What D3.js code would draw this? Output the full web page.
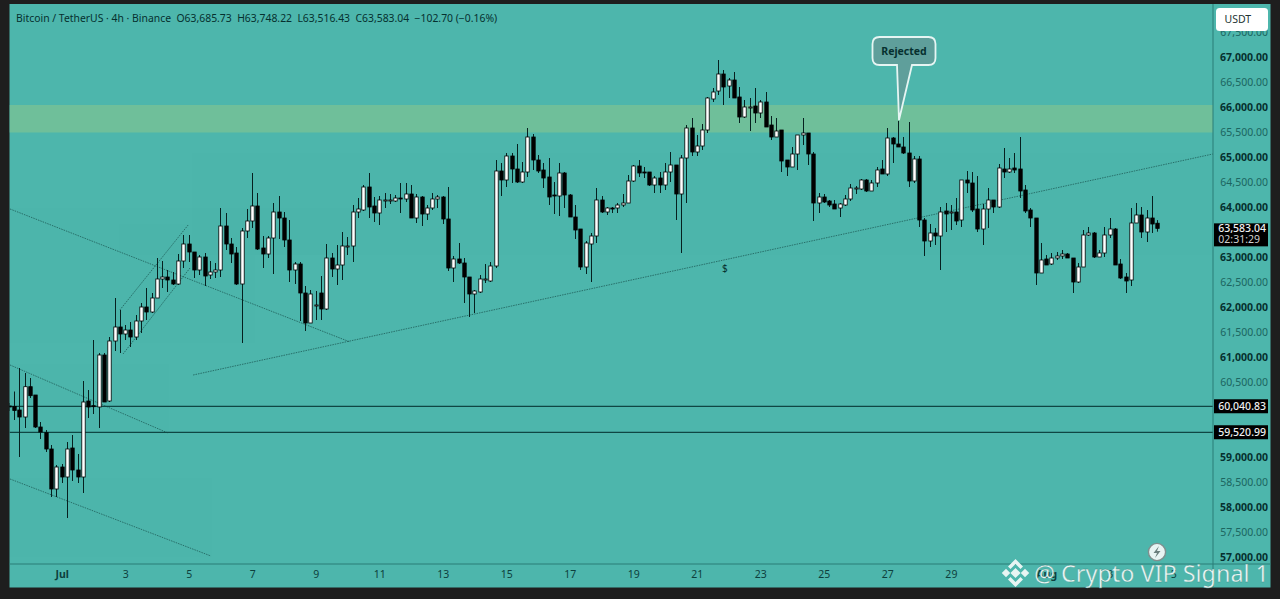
<!DOCTYPE html>
<html><head><meta charset="utf-8">
<script src="https://cdn.jsdelivr.net/npm/d3@7"></script>
<style>
html,body{margin:0;padding:0;background:#1e1e1e;overflow:hidden}
svg{display:block}
text{font-family:"Noto Sans",sans-serif}
</style></head><body>
<div id="chart"></div>
<script>
const highs=[60090,60320,60790,60690,60590,60250,59710,59550,59250,58850,58870,59310,59450,59070,60530,60350,61350,61090,61090,61410,
62190,61950,61650,61710,61850,62090,62390,62290,62990,62930,62750,62710,63070,63450,63450,63110,63050,63090,62930,62890,
63990,63890,63390,63210,63590,63970,64690,64290,63430,63430,64090,64230,63910,63750,62910,62910,62430,62350,62330,62630,
63270,63090,63250,63510,63410,64050,64190,64450,64690,64210,64230,64290,64270,64250,64490,64490,64450,64270,64230,64050,
64290,64250,64230,64410,63030,63290,62990,62610,62350,62650,62870,62910,64950,64890,65090,65090,65270,64910,65590,65470,
65050,64890,64990,64510,64890,64710,64270,64050,63570,63330,63490,64390,64230,64010,64010,64090,64270,64650,64850,64950,
64810,64710,64630,64710,64890,65110,64850,65050,65650,65790,65450,65670,66210,66390,66950,66750,66590,66710,66410,66150,
66190,66390,66150,66310,65830,65790,65550,64950,65210,65450,65790,65490,65110,64290,64270,64150,64150,64090,64250,64470,
64430,64570,64570,64550,64810,64950,65590,65410,65730,65410,65710,65030,65030,63790,63670,63590,64010,64090,64050,64190,
64550,64730,64710,64630,64070,64390,64150,64870,65190,64990,65090,65410,64450,63990,63790,63290,63050,63090,63110,63150,
63090,62990,62890,63550,63610,63510,63150,63610,63790,63590,62970,62690,63990,64090,64010,63950,64230,63748.22];
const lows=[59930,59750,59010,59590,60190,59590,59370,59110,58210,58210,58490,57790,58530,58490,58290,59790,59870,59590,60110,60110,
61130,61090,61350,61210,61350,61490,61750,61890,62190,62390,62310,62450,62450,62790,62910,62590,62650,62430,62570,62590,
62610,63150,62890,62450,61290,63390,63590,63150,62790,62990,62670,63370,63210,62510,62470,61730,61530,61690,61750,61750,
61950,62610,62450,62550,63050,62910,63790,63930,63790,63710,63650,63990,64070,64110,63890,64110,63790,63690,63630,63750,
63950,63990,63670,62730,62510,62870,62090,61810,61890,62290,62490,62510,62790,64230,64410,64490,64490,64490,64610,64750,
64690,64390,64050,63870,63830,63990,63810,63370,62750,62670,62510,63290,63890,63850,63890,63890,64010,64090,64510,64610,
64590,64430,64290,64290,64350,64510,63750,63090,64090,65030,65030,65150,65490,66110,66250,66050,66190,66190,65690,65790,
65530,65690,65790,65610,65350,65410,64710,64630,64810,64750,65250,64850,63730,63890,64090,64010,63970,63810,64030,64130,
64270,64350,64310,64330,64410,64670,64630,64890,65210,65070,64410,64490,63610,63030,63210,63250,62750,63510,63550,63650,
63610,64290,63910,63510,63250,63590,63890,63990,64590,64690,64690,64190,63890,63610,62450,62690,62850,62850,62950,62970,
62990,62290,62490,62810,63430,62990,63010,63010,63390,62850,62570,62290,62430,63690,63390,63310,63490,63516.43];
const opens=[60030,60020,59950,59810,60416,60250,59610,59496,59170,58370,58810,58610,59190,58750,58610,60130,60036,60010,61050,60130,
61330,61610,61470,61550,61410,61730,62010,61910,62190,62570,62610,62550,62470,62930,63270,63110,62750,63010,62650,62710,
62750,63630,63270,63090,62470,63530,63730,64030,63190,63070,63390,63910,63790,63350,62750,62870,62290,61690,62030,62290,
61970,62990,62770,62850,63210,63230,63910,63950,64410,64030,63890,64130,64140,64130,64190,64170,64270,63790,64210,63870,
63990,64170,64210,63770,62790,62970,62890,62610,62270,62310,62550,62530,62830,64730,64550,65030,64770,64510,64710,65410,
64950,64750,64610,64250,64230,64690,64250,63810,63570,62810,63270,63430,64150,63910,63990,63990,64050,64090,64530,64830,
64710,64710,64450,64590,64450,64710,64850,64270,64990,65590,65110,65230,65550,66170,66330,66670,66430,66550,66210,65810,
66000,66030,65890,66110,65650,65410,65550,64950,64810,65070,65450,65490,65070,64090,64210,64130,64070,63990,64050,64170,
64370,64370,64550,64330,64490,64770,64670,65390,65270,65210,65090,64530,64970,63750,63330,63490,63430,63930,63890,63910,
63750,64550,64490,63970,63570,63970,64150,64010,64770,64710,64790,64770,64350,63950,63790,62690,62970,62870,62990,63030,
63070,62990,62510,62810,63450,63490,63010,63090,63450,63570,62870,62610,62550,63690,63850,63510,63790,63685.73];
const closes=[60010,59940,59810,60416,60236,59610,59510,59170,58370,58810,58610,59170,58750,58610,60110,60010,60016,61050,60110,61330,
61610,61470,61550,61410,61730,62010,61910,62190,62570,62610,62550,62470,62930,63270,63110,62750,63010,62630,62710,62750,
63630,63270,63070,62470,63530,63730,64030,63170,63070,63390,63910,63790,63350,62750,62870,62290,61690,62270,62050,61970,
62990,62770,62850,63230,63230,63910,63970,64410,64010,63890,64150,64150,64150,64190,64170,64270,63790,64210,63870,63990,
64170,64210,63770,62790,62970,62890,62610,62270,62330,62570,62570,62830,64730,64550,65030,64770,64510,64710,65410,64950,
64730,64590,64210,64230,64690,64250,63810,63550,62810,63290,63430,64150,63910,63990,63970,64050,64090,64530,64830,64690,
64690,64450,64590,64450,64710,64850,64270,64990,65590,65110,65230,65550,66190,66310,66670,66410,66550,66190,65810,66010,
66010,65890,66110,65610,65410,65530,64930,64810,65070,65450,65490,65070,64090,64210,64110,64050,63970,64070,64170,64390,
64390,64550,64330,64490,64750,64670,65390,65270,65210,65090,64530,64970,63750,63330,63490,63430,63910,63870,63910,63730,
64550,64490,63950,63570,63970,64150,64010,64790,64710,64770,64750,64330,63930,63790,62690,62950,62850,62990,63030,63070,
62990,62510,62810,63450,63490,63010,63090,63450,63570,62850,62590,62530,63690,63850,63510,63790,63670,63583.04];

const priceTicks=[67500,67000,66500,66000,65500,65000,64500,64000,63500,63000,62500,62000,61500,61000,60500,60000,59500,59000,58500,58000,57500,57000];
const hiddenPriceTicks=[63500,60000,59500];
const boldPriceTicks=[67000,66000,65000,64000,63000,62000,61000,59000,58000,57000];
const dateIndex=[10,22,34,46,58,70,82,94,106,118,130,142,154,166,178,196,208,220];
const dateLabels=["Jul","3","5","7","9","11","13","15","17","19","21","23","25","27","29","Aug","3","5"];
const boldDates=["Jul","Aug"];
const levelValues=[60040.83,59520.99];
const levelLabels=["60,040.83","59,520.99"];
const zoneLow=65500, zoneHigh=66050;
const lastPrice=63583.04, lastLabel="63,583.04", countdown="02:31:29";
const headerText="Bitcoin / TetherUS · 4h · Binance  O63,685.73  H63,748.22  L63,516.43  C63,583.04  −102.70 (−0.16%)";
const calloutText="Rejected", calloutIndex=168.2, calloutPrice=65750;
const trendA=[34.84,227.5], trendAP=[60650,65070];
const trendB=[0.25,64.5], trendBP=[63970,61310];
const trendC=[21.0,33.9], trendCP=[61950,63650];
const trendD=[21.6,34.25], trendDP=[61070,62790];
const trendE=[0.25,30.1], trendEP=[60850,59490];
const trendF=[0.25,38.2], trendFP=[58570,57030];
const trends=[[trendA,trendAP],[trendB,trendBP],[trendC,trendCP],[trendD,trendDP],[trendE,trendEP],[trendF,trendFP]];

const W=1280,H=599,L=9.5,T=4,R=1213,B=564,RE=1270.5,BE=587.5;
const bg="#4db6ac", ink="#06302f";
const x=d3.scaleLinear().domain([0,217]).range([8.7,1157.3]);
const y=d3.scaleLinear().domain([57000,67000]).range([557.5,57.5]);
const svg=d3.select("#chart").append("svg").attr("width",W).attr("height",H);
svg.append("rect").attr("width",W).attr("height",H).attr("fill","#1e1e1e");
svg.append("rect").attr("x",L).attr("y",T).attr("width",RE-L).attr("height",BE-T).attr("fill",bg);
const defs=svg.append("defs");
defs.append("clipPath").attr("id","plot").append("rect").attr("x",L).attr("y",T).attr("width",R-L).attr("height",B-T);
const plot=svg.append("g").attr("clip-path","url(#plot)");
plot.append("rect").attr("x",L).attr("width",R-L).attr("y",y(zoneHigh)).attr("height",y(zoneLow)-y(zoneHigh)).attr("fill","#6fbf9a");

plot.selectAll("line.trend").data(trends).join("line").attr("class","trend")
 .attr("x1",d=>x(d[0][0])).attr("x2",d=>x(d[0][1])).attr("y1",d=>y(d[1][0])).attr("y2",d=>y(d[1][1]))
 .attr("stroke","#1f5f5a").attr("stroke-width",1).attr("stroke-dasharray","1.5 1").attr("opacity",.8);
plot.selectAll("line.level").data(levelValues).join("line").attr("class","level")
 .attr("x1",L).attr("x2",R).attr("y1",d=>y(d)+.9).attr("y2",d=>y(d)+.9)
 .attr("stroke","#0f4643").attr("stroke-width",1.2);

const idx=d3.range(highs.length);
plot.selectAll("line.wick").data(idx).join("line").attr("class","wick")
 .attr("x1",i=>Math.round(x(i))+.5).attr("x2",i=>Math.round(x(i))+.5).attr("y1",i=>y(highs[i])).attr("y2",i=>y(lows[i]))
 .attr("stroke","#06201f").attr("stroke-width",1);
plot.selectAll("rect.body").data(idx).join("rect").attr("class","body")
 .attr("x",i=>Math.round(x(i))-1.2).attr("width",3.4)
 .attr("y",i=>y(Math.max(opens[i],closes[i])))
 .attr("height",i=>Math.max(1,Math.abs(y(opens[i])-y(closes[i]))))
 .attr("fill",i=>closes[i]>=opens[i]?"#fff":"#000")
 .attr("stroke","#000").attr("stroke-width",.8);
plot.append("text").attr("x",x(135.3)).attr("y",y(62800)+4).attr("text-anchor","middle").attr("font-size",10).attr("fill",ink).text("$");

// axes
svg.append("line").attr("x1",R).attr("x2",R).attr("y1",T).attr("y2",BE).attr("stroke","#2b7c76");
svg.append("line").attr("x1",L).attr("x2",RE).attr("y1",B).attr("y2",B).attr("stroke","#2b7c76");
const yAxis=d3.axisRight(y).tickValues(priceTicks.filter(v=>!hiddenPriceTicks.includes(v))).tickSize(0).tickPadding(0)
 .tickFormat(d3.format(",.2f"));
const ya=svg.append("g").attr("transform",`translate(${1268},0)`).call(yAxis);
ya.select(".domain").remove();
ya.selectAll("text").attr("text-anchor","end").attr("font-size",10.5).attr("x",0)
 .attr("font-weight",d=>boldPriceTicks.includes(d)?700:400)
 .attr("fill",d=>boldPriceTicks.includes(d)?ink:"#1c6560").style("font-family",'"Noto Sans",sans-serif');
const xAxis=d3.axisBottom(x).tickValues(dateIndex).tickSize(0).tickPadding(0).tickFormat((d,i)=>dateLabels[i]);
const xa=svg.append("g").attr("transform",`translate(0,${571})`).call(xAxis);
xa.select(".domain").remove();
xa.selectAll("text").attr("font-size",10.5).attr("fill","#0e3f3d").attr("font-weight",(d,i)=>boldDates.includes(dateLabels[i])?700:400).style("font-family",'"Noto Sans",sans-serif');

// tags
const tagG=svg.append("g");
tagG.selectAll("rect").data(levelValues).join("rect").attr("x",R+1).attr("width",54).attr("y",d=>y(d)-6.2).attr("height",14).attr("fill","#000");
tagG.selectAll("text").data(levelValues).join("text").attr("x",1266).attr("text-anchor","end").attr("y",(d)=>y(d)+4.6)
 .attr("font-size",10.5).attr("fill","#f0f0f0").attr("font-weight",500).text((d,i)=>levelLabels[i]);
svg.append("rect").attr("x",R+1).attr("width",54).attr("y",y(lastPrice)-5).attr("height",23).attr("fill","#000");
svg.append("text").attr("x",1266).attr("text-anchor","end").attr("y",y(lastPrice)+4).attr("font-size",10.5).attr("fill","#f0f0f0").attr("font-weight",500).text(lastLabel);
svg.append("text").attr("x",1260).attr("text-anchor","end").attr("y",y(lastPrice)+15).attr("font-size",10.5).attr("fill","#d0d0d0").text(countdown);

// USDT button
svg.append("rect").attr("x",1216).attr("y",8).attr("width",52).attr("height",23).attr("rx",3.5).attr("fill","#fff");
svg.append("text").attr("x",1224.5).attr("y",23).attr("font-size",10.5).attr("fill","#233").text("USDT");

// header
svg.append("text").attr("x",16).attr("y",22).attr("font-size",10.4).attr("fill",ink).attr("xml:space","preserve").style("white-space","pre").text(headerText);

// callout
const cx=x(calloutIndex), cy=y(calloutPrice);
const cp=d3.path();
const rx0=cx-26.5,rx1=cx+36.5,ry0=cy-83,ry1=cy-55,r=7;
cp.moveTo(rx0+r,ry0);cp.lineTo(rx1-r,ry0);cp.quadraticCurveTo(rx1,ry0,rx1,ry0+r);cp.lineTo(rx1,ry1-r);cp.quadraticCurveTo(rx1,ry1,rx1-r,ry1);
cp.lineTo(cx+13,ry1);cp.lineTo(cx,cy);cp.lineTo(cx-2,ry1);cp.lineTo(rx0+r,ry1);cp.quadraticCurveTo(rx0,ry1,rx0,ry1-r);cp.lineTo(rx0,ry0+r);cp.quadraticCurveTo(rx0,ry0,rx0+r,ry0);cp.closePath();
svg.append("path").attr("d",cp.toString()).attr("fill","#5f9f9b").attr("stroke","#e6f5f3").attr("stroke-width",1.8);
svg.append("text").attr("x",(rx0+rx1)/2).attr("y",ry0+17.5).attr("text-anchor","middle").attr("font-size",10.5).attr("font-weight",700).attr("fill",ink).text(calloutText);

// lightning badge
const bolt=svg.append("g").attr("transform","translate(1157,552)");
bolt.append("circle").attr("r",8.6).attr("fill","#e8f4f3").attr("stroke","#7f8f8e").attr("stroke-width",1.4);
bolt.append("path").attr("d","M2,-6 L-3.5,1 L0,1 L-2,6 L3.5,-1 L0,-1 Z").attr("fill","#6b7f7d");

// watermark
const wm=svg.append("g");
const logo=wm.append("g").attr("transform","translate(1015.5,573)").attr("fill","#e8f5f3");
[[0,0,3.6],[-9.5,0,3],[9.5,0,3]].forEach(d=>logo.append("rect").attr("x",d[0]-d[2]).attr("y",d[1]-d[2]).attr("width",2*d[2]).attr("height",2*d[2]).attr("transform",`rotate(45 ${d[0]} ${d[1]})`));
logo.append("path").attr("d","M0,-14 L7.5,-6.5 L5,-4 L0,-9 L-5,-4 L-7.5,-6.5 Z");
logo.append("path").attr("d","M0,14 L7.5,6.5 L5,4 L0,9 L-5,4 L-7.5,6.5 Z");
wm.append("text").attr("x",1269).attr("y",582).attr("text-anchor","end").attr("font-size",23.4).attr("fill","#e8f5f3").attr("stroke","#3c8d86").attr("stroke-width",.3).text("@ Crypto VIP Signal 1");
</script>
</body></html>
